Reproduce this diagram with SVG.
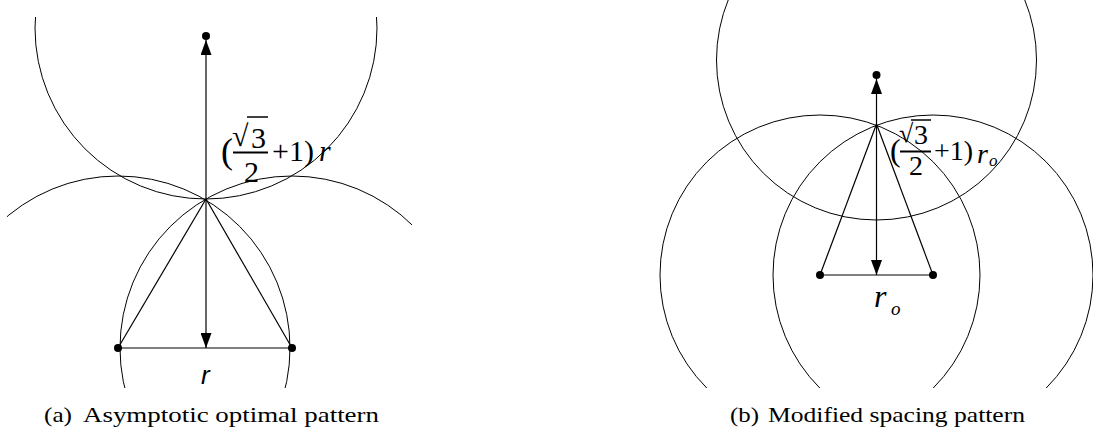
<svg xmlns="http://www.w3.org/2000/svg" width="1093" height="436" viewBox="0 0 1093 436">
<style>
.c{fill:none;stroke:#000;stroke-width:1}
.l{stroke:#000;stroke-width:1.2;fill:none}
.d{fill:#000}
.m{font-family:'Liberation Serif',serif;fill:#000}
.cap{font-family:'Liberation Serif',serif;font-size:21px;fill:#000}
</style>
<defs>
<marker id="ah" markerUnits="userSpaceOnUse" markerWidth="15" markerHeight="11" refX="15" refY="5.5" orient="auto-start-reverse">
<path d="M0,0 L15,5.5 L0,11 z" fill="#000"/>
</marker>
<clipPath id="clipA"><rect x="7" y="17" width="405" height="371"/></clipPath>
<clipPath id="clipB"><rect x="600" y="0" width="493" height="388"/></clipPath>
</defs>

<g id="panel-a-circles" clip-path="url(#clipA)">
<circle class="c" cx="206" cy="28" r="171"/>
<circle class="c" cx="118" cy="348" r="172"/>
<circle class="c" cx="292" cy="348" r="172"/>
</g>
<g id="panel-b-circles" clip-path="url(#clipB)">
<circle class="c" cx="876.5" cy="60" r="160"/>
<circle class="c" cx="820" cy="275" r="160"/>
<circle class="c" cx="933" cy="275" r="160"/>
</g>

<g id="connectors">
<line class="l" x1="206" y1="199" x2="118" y2="348"/>
<line class="l" x1="206" y1="199" x2="292" y2="348"/>
<line class="l" x1="118" y1="348" x2="292" y2="348"/>
<line class="l" x1="206" y1="40" x2="206" y2="348" marker-start="url(#ah)" marker-end="url(#ah)"/>
<line class="l" x1="876.5" y1="124" x2="820" y2="275"/>
<line class="l" x1="876.5" y1="124" x2="933" y2="275"/>
<line class="l" x1="820" y1="275" x2="933" y2="275"/>
<line class="l" x1="876.5" y1="79" x2="876.5" y2="275" marker-start="url(#ah)" marker-end="url(#ah)"/>
</g>

<g id="node-a-top"><circle class="d" cx="206" cy="36" r="4"/></g>
<g id="node-a-left"><circle class="d" cx="118" cy="348" r="4"/></g>
<g id="node-a-right"><circle class="d" cx="292" cy="348" r="4"/></g>
<g id="node-b-top"><circle class="d" cx="876.5" cy="75" r="4"/></g>
<g id="node-b-left"><circle class="d" cx="820" cy="275" r="4"/></g>
<g id="node-b-right"><circle class="d" cx="933" cy="275" r="4"/></g>

<g id="label-a-height" font-family="Liberation Serif, serif">
<text class="m" x="221" y="163" font-size="36">(</text>
<text class="m" x="232" y="146" font-size="30">√</text>
<line x1="247" y1="117" x2="268" y2="117" stroke="#000" stroke-width="1.5"/>
<text class="m" x="251" y="148" font-size="30">3</text>
<line x1="233" y1="152.5" x2="268" y2="152.5" stroke="#000" stroke-width="2"/>
<text class="m" x="244" y="182" font-size="30">2</text>
<text class="m" x="272" y="161" font-size="30">+1)</text>
<text class="m" x="319" y="161" font-size="30" font-style="italic">r</text>
</g>
<g id="label-a-base">
<text x="201" y="384" font-family="Liberation Sans, sans-serif" font-size="26" font-style="italic">r</text>
</g>

<g id="label-b-height" font-family="Liberation Serif, serif">
<text class="m" x="890" y="161" font-size="32">(</text>
<text class="m" x="899" y="142" font-size="26">√</text>
<line x1="911" y1="120" x2="931" y2="120" stroke="#000" stroke-width="1.5"/>
<text class="m" x="914" y="144" font-size="28">3</text>
<line x1="900" y1="151.5" x2="931" y2="151.5" stroke="#000" stroke-width="2"/>
<text class="m" x="909" y="175" font-size="28">2</text>
<text class="m" x="934" y="160" font-size="28">+1)</text>
<text class="m" x="977" y="163" font-size="28" font-style="italic">r</text>
<text class="m" x="989" y="166" font-size="17" font-style="italic">o</text>
</g>
<g id="label-b-base" font-family="Liberation Serif, serif">
<text class="m" x="874" y="307" font-size="32" font-style="italic">r</text>
<text class="m" x="891" y="315" font-size="19" font-style="italic">o</text>
</g>

<g id="captions" font-family="Liberation Serif, serif">
<text class="cap" x="44" y="422" textLength="28" lengthAdjust="spacingAndGlyphs">(a)</text>
<text class="cap" x="83" y="422" textLength="296" lengthAdjust="spacingAndGlyphs">Asymptotic optimal pattern</text>
<text class="cap" x="730" y="422" textLength="29" lengthAdjust="spacingAndGlyphs">(b)</text>
<text class="cap" x="768" y="422" textLength="257" lengthAdjust="spacingAndGlyphs">Modified spacing pattern</text>
</g>
</svg>
